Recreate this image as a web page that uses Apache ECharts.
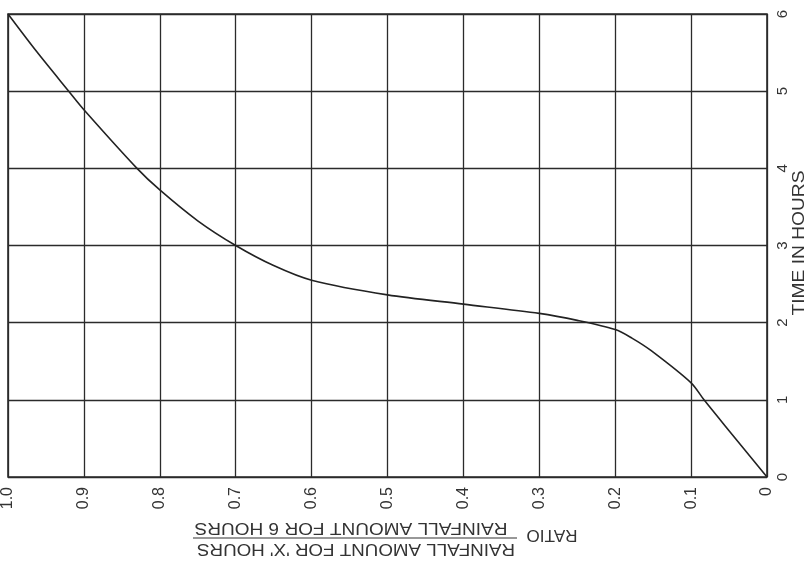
<!DOCTYPE html>
<html><head><meta charset="utf-8">
<script src="https://cdn.jsdelivr.net/npm/echarts@6/dist/echarts.min.js"></script>
<style>html,body{margin:0;padding:0;background:#fff}#c{width:806px;height:567px}</style>
</head><body><div id="c"></div>
<script>
// Data (ratio = rainfall for X hours / rainfall for 6 hours)
const ratioValues = [0, 0.05, 0.083, 0.1, 0.153, 0.178, 0.2, 0.25, 0.3, 0.4, 0.5, 0.6, 0.65, 0.7, 0.75, 0.8, 0.83, 0.9, 0.92, 0.962, 1.0];
const timeValues  = [0, 0.6, 1.0, 1.22, 1.64, 1.8, 1.91, 2.03, 2.12, 2.24, 2.36, 2.55, 2.74, 3.0, 3.32, 3.72, 4.0, 4.76, 5.0, 5.51, 6.0];
const ratioTickLabels = ['0', '0.1', '0.2', '0.3', '0.4', '0.5', '0.6', '0.7', '0.8', '0.9', '1.0'];
const timeTickLabels = ['0', '1', '2', '3', '4', '5', '6'];
const timeAxisTitle = 'TIME IN HOURS';
const ratioWord = 'RATIO';
const ratioNumerator = "RAINFALL AMOUNT FOR 'X' HOURS";
const ratioDenominator = 'RAINFALL AMOUNT FOR 6 HOURS';

const FONT_FAMILY = 'Liberation Sans';
const INK = '#2b2b2b';
const TXT = '#333333';

function fitScale(text, size, width) {
  const ctx = document.createElement('canvas').getContext('2d');
  ctx.font = size + 'px "' + FONT_FAMILY + '"';
  return width / ctx.measureText(text).width;
}
function label(text, x, y, rot, size, width) {
  return {
    type: 'text', x: x, y: y, rotation: rot,
    scaleX: fitScale(text, size, width), scaleY: 1.12,
    style: {
      text: text, fill: TXT, fontSize: size, fontFamily: FONT_FAMILY,
      align: 'center', verticalAlign: 'middle',
      textAlign: 'center', textVerticalAlign: 'middle'
    }
  };
}

const curve = ratioValues.map((r, i) => [r, timeValues[i]]);

const chart = echarts.init(document.getElementById('c'));
chart.setOption({
  backgroundColor: '#ffffff',
  animation: false,
  grid: { left: 7, right: 39, top: 14, bottom: 90, show: true, borderColor: INK, borderWidth: 1.6, backgroundColor: 'transparent' },
  xAxis: {
    type: 'value', min: 0, max: 1, interval: 0.1, inverse: true,
    axisLine: { show: false }, axisTick: { show: false },
    splitLine: { show: true, lineStyle: { color: INK, width: 1.3 } },
    axisLabel: {
      rotate: 90, margin: 10, color: TXT, fontSize: 16, fontFamily: FONT_FAMILY,
      formatter: v => ratioTickLabels[Math.round(v * 10)]
    }
  },
  yAxis: {
    type: 'value', position: 'right', min: 0, max: 6, interval: 1,
    axisLine: { show: false }, axisTick: { show: false },
    splitLine: { show: true, lineStyle: { color: INK, width: 1.3 } },
    axisLabel: {
      rotate: 90, margin: 8, color: TXT, fontSize: 15, fontFamily: FONT_FAMILY,
      formatter: v => timeTickLabels[Math.round(v)]
    }
  },
  series: [{
    type: 'line', data: curve, symbol: 'none', smooth: 0.3,
    lineStyle: { color: '#222', width: 1.6 }
  }],
  graphic: [
    label(timeAxisTitle, 799, 243, Math.PI / 2, 15, 145),
    label(ratioWord, 552, 535, Math.PI, 15, 51),
    label(ratioDenominator, 351, 528, Math.PI, 15, 313),
    label(ratioNumerator, 356, 549, Math.PI, 15, 318),
    { type: 'line', shape: { x1: 193, y1: 538, x2: 517, y2: 538 }, style: { stroke: TXT, lineWidth: 1.2 } }
  ]
});
</script>
</body></html>
